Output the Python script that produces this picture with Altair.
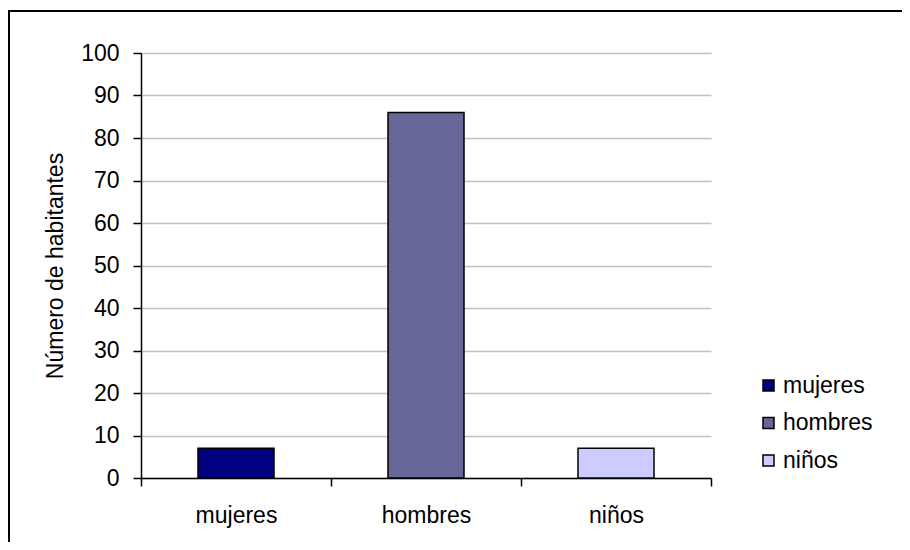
import altair as alt
import pandas as pd

categorias = ["mujeres", "hombres", "niños"]
habitantes = [7, 86, 7]
colores = ["#000080", "#666699", "#CCCCFF"]
y_ticks = [0, 10, 20, 30, 40, 50, 60, 70, 80, 90, 100]

df = pd.DataFrame({"categoria": categorias, "habitantes": habitantes})

FONT = "Liberation Sans"
FS = 23

bars = alt.Chart(df).mark_bar(
    width=alt.RelativeBandSize(0.4), stroke="black", strokeWidth=1.5
).encode(
    x=alt.X(
        "categoria:N",
        sort=categorias,
        scale=alt.Scale(paddingInner=0, paddingOuter=0),
        axis=alt.Axis(
            title=None, labelAngle=0, tickBand="extent", tickSize=8,
            tickWidth=1.5, tickColor="black", domainColor="black",
            domainWidth=1.5, labelPadding=18, labelFont=FONT,
            labelFontSize=FS, labelColor="black", grid=False,
        ),
    ),
    y=alt.Y(
        "habitantes:Q",
        scale=alt.Scale(domain=[0, 100]),
        axis=alt.Axis(
            values=y_ticks, title="Número de habitantes", tickSize=8,
            tickWidth=1.5, tickColor="black", domainColor="black",
            domainWidth=1.5, labelPadding=14, labelFont=FONT,
            labelFontSize=FS, labelColor="black", grid=True,
            gridColor="#c0c0c0", gridWidth=1.5, titleFont=FONT,
            titleFontSize=FS, titleFontWeight="normal", titleColor="black",
            titleX=-79, titleY=212.5, titleAlign="center",
            titleBaseline="alphabetic", titleAngle=270,
        ),
    ),
    color=alt.Color(
        "categoria:N",
        sort=categorias,
        scale=alt.Scale(domain=categorias, range=colores),
        legend=alt.Legend(
            title=None, orient="none", legendX=616, legendY=321,
            symbolType="square", symbolSize=121, symbolStrokeColor="black",
            symbolStrokeWidth=1.5, labelFont=FONT, labelFontSize=FS,
            labelColor="black", labelOffset=3, rowPadding=13.5, padding=0,
        ),
    ),
)

border = alt.Chart(pd.DataFrame({"k": [0]})).mark_rect(
    fillOpacity=0, stroke="black", strokeWidth=2
).encode(
    x=alt.value(-132), x2=alt.value(800), y=alt.value(-42), y2=alt.value(520)
)

chart = alt.layer(border, bars).properties(
    width=570,
    height=425,
    autosize=alt.AutoSizeParams(type="none"),
    padding={"left": 133, "top": 45, "right": 191, "bottom": 64},
    background="white",
).configure_view(stroke=None)

chart.save("out.html", embed_options={"renderer": "svg", "actions": False})
